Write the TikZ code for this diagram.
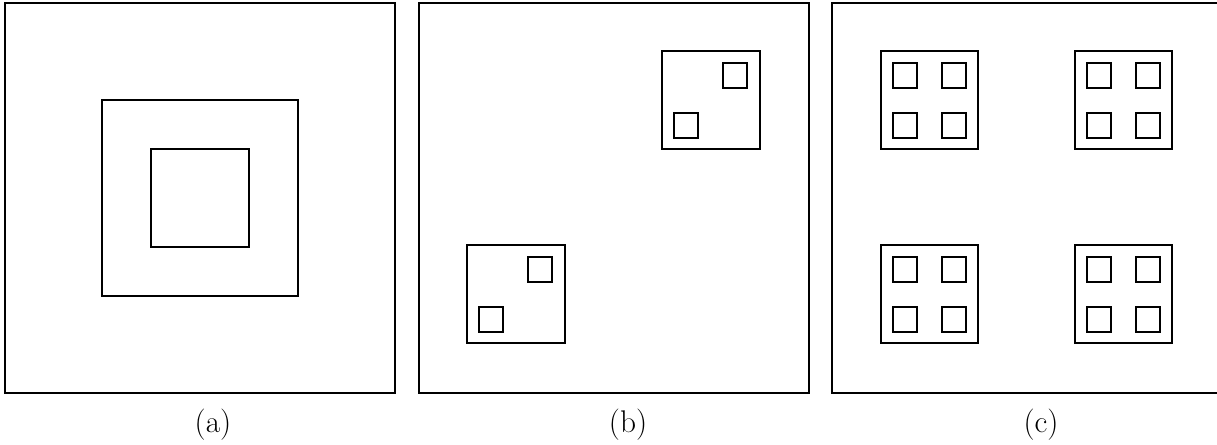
\documentclass[tikz,border=0pt]{standalone}
\usepackage{fontspec}
\usepackage{tikz}
\usetikzlibrary{positioning}

\tikzset{sublabel/.style={font=\fontsize{23.5}{28}\selectfont,text=black,inner sep=0pt}}

\begin{document}
\begin{tikzpicture}[x=0.75pt,y=-0.75pt,line width=1.5pt]
\useasboundingbox (0,0) rectangle (1217,444);
% panel (a)
\draw (5,3) rectangle (395,393);
\draw (102,100) rectangle (298,296);
\draw (151,149) rectangle (249,247);
% panel (b)
\draw (419,3) rectangle (809,393);
\foreach \x/\y in {662/51,467/245}{
  \draw (\x,\y) rectangle ++(98,98);
  \draw (\x+61,\y+12) rectangle ++(24,25);
  \draw (\x+12,\y+62) rectangle ++(24,25);
}
% panel (c)
\draw (832,3) rectangle (1222,393);
\foreach \x in {881,1075}
  \foreach \y in {51,245}{
    \draw (\x,\y) rectangle ++(97,98);
    \foreach \dx in {12,61}
      \foreach \dy in {12,62}
        \draw (\x+\dx,\y+\dy) rectangle ++(24,25);
  }

\node[sublabel] (lbla) at (213,425) {(a)};
\node[sublabel] (lblb) at (628,425) {(b)};
\node[sublabel] (lblc) at (1041,425) {(c)};
\end{tikzpicture}
\end{document}
